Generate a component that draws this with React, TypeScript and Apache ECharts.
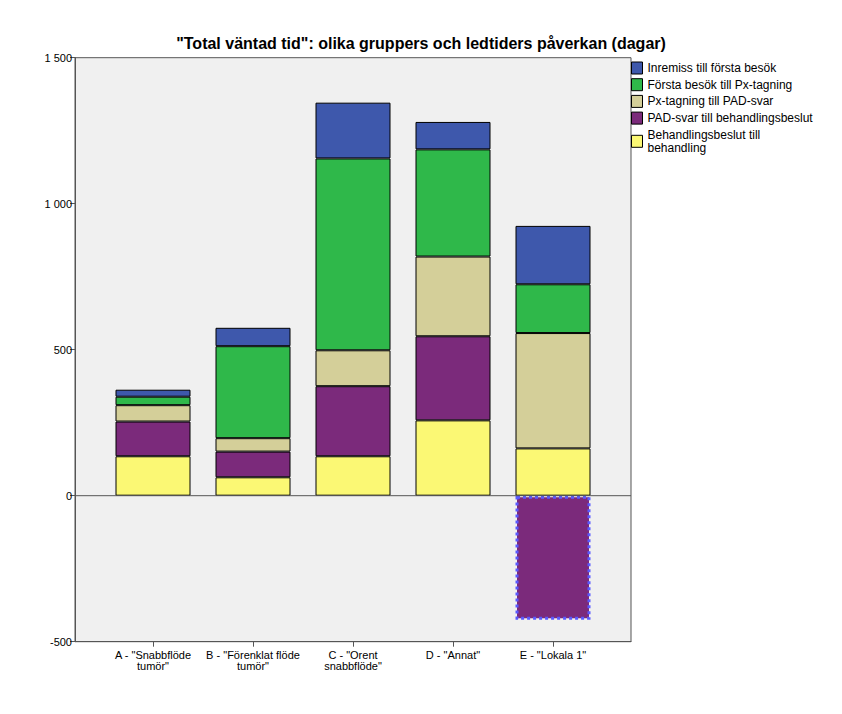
import React, { useEffect, useRef } from "react";
import * as echarts from "echarts";

const categories = [
  'A - "Snabbflöde\ntumör"',
  'B - "Förenklat flöde\ntumör"',
  'C - "Orent\nsnabbflöde"',
  'D - "Annat"',
  'E - "Lokala 1"',
];
const seriesNames = [
  "Behandlingsbeslut till\nbehandling",
  "PAD-svar till behandlingsbeslut",
  "Px-tagning till PAD-svar",
  "Första besök till Px-tagning",
  "Inremiss till första besök",
];
const behandling = [135, 63, 135, 258, 162];
const padSvar = [119, 88, 240, 288, -425];
const pxTagning = [56, 46, 123, 273, 395];
const forstaBesok = [29, 315, 657, 367, 167];
const inremiss = [24, 63, 191, 94, 200];
const zeroLine = [[0, 0], [1, 0]];

const colors = ["#fbf874", "#7b2a7b", "#d4cf99", "#2fb84a", "#3e58ac"];
const FONT = "Liberation Sans, Arial, sans-serif";

export default function App() {
  const ref = useRef<HTMLDivElement>(null);
  useEffect(() => {
    if (!ref.current) return;
    const chart = echarts.init(ref.current, null, { renderer: "svg" });
    const values = [behandling, padSvar, pxTagning, forstaBesok, inremiss];
    const series: any[] = values.map((vals, si) => ({
      name: seriesNames[si],
      type: "bar",
      stack: "total",
      xAxisIndex: 1,
      yAxisIndex: 1,
      barWidth: 75,
      itemStyle: { color: colors[si], borderColor: "#000", borderWidth: 1 },
      data: vals.map((v) =>
        v < 0
          ? {
              value: v,
              itemStyle: { borderColor: "#5a5aff", borderType: "dotted", borderWidth: 3 },
            }
          : v
      ),
    }));
    series.push({
      name: "zero",
      type: "line",
      xAxisIndex: 0,
      yAxisIndex: 0,
      data: zeroLine,
      symbol: "none",
      silent: true,
      z: 5,
      lineStyle: { color: "#555", width: 1 },
    });
    const yFmt = (v: number) => String(v).replace(/\B(?=(\d{3})+(?!\d))/g, " ");
    chart.setOption({
      animation: false,
      backgroundColor: "#fff",
      title: {
        text: '"Total väntad tid": olika gruppers och ledtiders påverkan (dagar)',
        left: "center",
        top: 30,
        textStyle: { fontFamily: FONT, fontSize: 16, fontWeight: "bold", color: "#000" },
      },
      legend: {
        orient: "vertical",
        left: 631,
        top: 61.5,
        padding: 0,
        itemGap: 3.7,
        itemWidth: 11,
        itemHeight: 12,
        icon: "rect",
        data: [...seriesNames].reverse(),
        itemStyle: { borderColor: "#000", borderWidth: 1 },
        textStyle: { fontFamily: FONT, fontSize: 12, color: "#000", lineHeight: 13 },
      },
      grid: [
        {
          left: 75,
          top: 57.7,
          width: 556,
          height: 584,
          show: true,
          backgroundColor: "#f0f0f0",
          borderColor: "#555",
          borderWidth: 1,
        },
        { left: 103, top: 57.7, width: 500, height: 584, show: false },
      ],
      xAxis: [
        {
          type: "value",
          gridIndex: 0,
          min: 0,
          max: 1,
          splitLine: { show: false },
          axisLine: { show: true, onZero: false, lineStyle: { color: "#555" } },
          axisTick: { show: false },
          axisLabel: { show: false },
        },
        {
          type: "category",
          gridIndex: 1,
          data: categories,
          axisLine: { show: false, onZero: false },
          axisTick: { show: true, alignWithLabel: true, length: 5, lineStyle: { color: "#555" } },
          axisLabel: {
            fontFamily: FONT,
            fontSize: 11,
            lineHeight: 11,
            color: "#000",
            margin: 8,
            interval: 0,
          },
        },
      ],
      yAxis: [
        {
          type: "value",
          gridIndex: 0,
          min: -500,
          max: 1500,
          interval: 500,
          splitLine: { show: false },
          axisLine: { show: true, onZero: false, lineStyle: { color: "#555" } },
          axisTick: { show: true, length: 5, lineStyle: { color: "#555" } },
          axisLabel: {
            formatter: yFmt,
            fontFamily: FONT,
            fontSize: 11,
            color: "#000",
            margin: 3,
          },
        },
        {
          type: "value",
          gridIndex: 1,
          min: -500,
          max: 1500,
          interval: 500,
          show: false,
          splitLine: { show: false },
        },
      ],
      series,
    });
    return () => chart.dispose();
  }, []);
  return (
    <div
      ref={ref}
      style={{ position: "fixed", left: 0, top: 0, width: 842, height: 714, background: "#fff" }}
    />
  );
}
